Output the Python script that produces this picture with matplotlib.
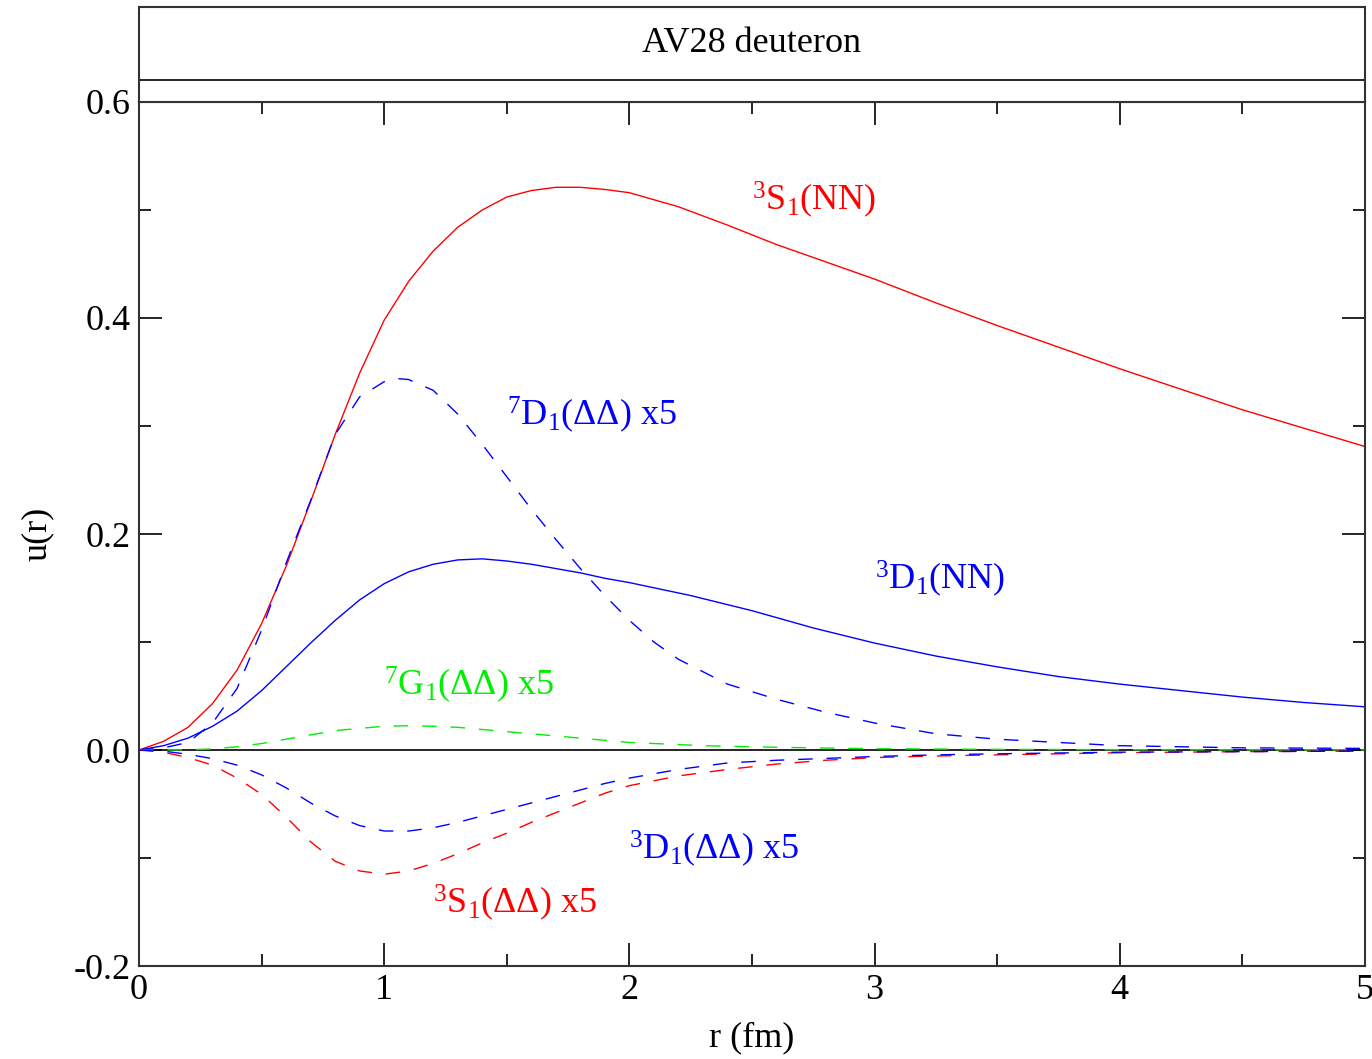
import numpy as np
import matplotlib
matplotlib.use("Agg")
import matplotlib.pyplot as plt
from matplotlib.ticker import MultipleLocator, FormatStrFormatter

plt.rcParams['font.family'] = ['Liberation Serif', 'DejaVu Serif']
plt.rcParams['mathtext.fontset'] = 'custom'
plt.rcParams['mathtext.rm'] = 'Liberation Serif'
plt.rcParams['mathtext.it'] = 'Liberation Serif:italic'
plt.rcParams['axes.unicode_minus'] = False

# 3S1(NN)
r_s_nn = [0, 0.1, 0.2, 0.3, 0.4, 0.5, 0.6, 0.7, 0.8, 0.9, 1.0, 1.1, 1.2, 1.3, 1.4, 1.5,
          1.6, 1.7, 1.8, 1.9, 2.0, 2.2, 2.4, 2.6, 2.8, 3.0, 3.25, 3.5, 3.75, 4.0, 4.25,
          4.5, 4.75, 5.0]
u_s_nn = [0, 0.008, 0.021, 0.043, 0.074, 0.117, 0.170, 0.230, 0.292, 0.349, 0.398, 0.434,
          0.462, 0.484, 0.500, 0.512, 0.518, 0.521, 0.521, 0.519, 0.516, 0.503, 0.486, 0.468,
          0.452, 0.436, 0.414, 0.393, 0.373, 0.353, 0.334, 0.315, 0.298, 0.281]

# 3D1(NN)
r_d_nn = [0, 0.1, 0.2, 0.3, 0.4, 0.5, 0.6, 0.7, 0.8, 0.9, 1.0, 1.1, 1.2, 1.3, 1.4, 1.5,
          1.6, 1.7, 1.8, 1.9, 2.0, 2.25, 2.5, 2.75, 3.0, 3.25, 3.5, 3.75, 4.0, 4.25, 4.5,
          4.75, 5.0]
u_d_nn = [0, 0.004, 0.011, 0.022, 0.036, 0.055, 0.077, 0.099, 0.120, 0.139, 0.154, 0.165,
          0.172, 0.176, 0.177, 0.175, 0.172, 0.168, 0.164, 0.159, 0.155, 0.143, 0.129, 0.113,
          0.099, 0.087, 0.077, 0.068, 0.061, 0.055, 0.049, 0.044, 0.040]

# 7D1(DD) x5
r_d7 = [0, 0.1, 0.2, 0.3, 0.4, 0.5, 0.6, 0.7, 0.8, 0.9, 1.0, 1.05, 1.1, 1.2, 1.3, 1.4,
        1.5, 1.6, 1.7, 1.8, 1.9, 2.0, 2.1, 2.2, 2.4, 2.6, 2.8, 3.0, 3.25, 3.5, 3.75, 4.0,
        4.5, 5.0]
u_d7 = [0, 0.002, 0.007, 0.025, 0.057, 0.111, 0.173, 0.231, 0.292, 0.327, 0.341, 0.344,
        0.343, 0.333, 0.311, 0.283, 0.253, 0.223, 0.195, 0.168, 0.143, 0.120, 0.100, 0.084,
        0.061, 0.047, 0.035, 0.025, 0.015, 0.010, 0.007, 0.004, 0.002, 0.0015]

# 7G1(DD) x5
r_g7 = [0, 0.2, 0.3, 0.4, 0.5, 0.6, 0.7, 0.8, 0.9, 1.0, 1.1, 1.2, 1.3, 1.4, 1.6, 1.8,
        2.0, 2.3, 2.6, 3.0, 3.5, 4.0, 5.0]
u_g7 = [0, 0.0002, 0.001, 0.003, 0.006, 0.010, 0.014, 0.018, 0.020, 0.022, 0.0225, 0.022,
        0.021, 0.019, 0.015, 0.011, 0.007, 0.004, 0.0025, 0.0012, 0.0006, 0.0003, 0.0001]

# 3S1(DD) x5
r_s_dd = [0, 0.1, 0.2, 0.3, 0.4, 0.5, 0.6, 0.7, 0.8, 0.9, 1.0, 1.1, 1.2, 1.3, 1.4, 1.5,
          1.6, 1.7, 1.8, 1.9, 2.0, 2.2, 2.4, 2.6, 2.8, 3.0, 3.25, 3.5, 4.0, 4.5, 5.0]
u_s_dd = [0, -0.002, -0.007, -0.014, -0.026, -0.041, -0.062, -0.085, -0.103, -0.112,
          -0.115, -0.112, -0.105, -0.096, -0.086, -0.077, -0.067, -0.058, -0.049, -0.040,
          -0.033, -0.024, -0.018, -0.013, -0.0095, -0.007, -0.0055, -0.0045, -0.0025,
          -0.0015, -0.001]

# 3D1(DD) x5
r_d_dd = [0, 0.1, 0.2, 0.3, 0.4, 0.5, 0.6, 0.7, 0.8, 0.9, 1.0, 1.1, 1.2, 1.3, 1.4, 1.5,
          1.6, 1.7, 1.8, 1.9, 2.0, 2.2, 2.4, 2.6, 2.8, 3.0, 3.25, 3.5, 4.0, 4.5, 5.0]
u_d_dd = [0, -0.001, -0.004, -0.008, -0.014, -0.023, -0.035, -0.049, -0.061, -0.070,
          -0.075, -0.075, -0.072, -0.067, -0.061, -0.055, -0.049, -0.043, -0.037, -0.031,
          -0.026, -0.018, -0.012, -0.0095, -0.0078, -0.006, -0.0045, -0.0035, -0.002,
          -0.0015, -0.001]

fs = 26
dash = (10.5, 10)

fig = plt.figure(figsize=(13.72, 10.59), dpi=100)
ax = fig.add_axes([0.1013, 0.0878, 0.8936, 0.8159])

ax.axhline(0, color='black', lw=1.2, zorder=1)
ax.plot(r_s_nn, u_s_nn, color='red', lw=1.0)
ax.plot(r_d_nn, u_d_nn, color='blue', lw=1.0)
ax.plot(r_d7, u_d7, color='blue', lw=1.0, dashes=dash)
ax.plot(r_g7, u_g7, color='#00ee00', lw=1.0, dashes=dash)
ax.plot(r_s_dd, u_s_dd, color='red', lw=1.0, dashes=dash)
ax.plot(r_d_dd, u_d_dd, color='blue', lw=1.0, dashes=dash)

ax.text(2.5, 0.509, r'$^3$S$_1$(NN)', color='red', fontsize=fs, va='center')
ax.text(1.5, 0.310, r'$^7$D$_1$(ΔΔ) x5', color='blue', fontsize=fs, va='center')
ax.text(3.0, 0.159, r'$^3$D$_1$(NN)', color='blue', fontsize=fs, va='center')
ax.text(1.0, 0.060, r'$^7$G$_1$(ΔΔ) x5', color='#00ee00', fontsize=fs, va='center')
ax.text(2.0, -0.091, r'$^3$D$_1$(ΔΔ) x5', color='blue', fontsize=fs, va='center')
ax.text(1.2, -0.141, r'$^3$S$_1$(ΔΔ) x5', color='red', fontsize=fs, va='center')

ax.set_xlim(0, 5)
ax.set_ylim(-0.2, 0.6)
ax.xaxis.set_major_locator(MultipleLocator(1))
ax.xaxis.set_minor_locator(MultipleLocator(0.5))
ax.yaxis.set_major_locator(MultipleLocator(0.2))
ax.yaxis.set_minor_locator(MultipleLocator(0.1))
ax.yaxis.set_major_formatter(FormatStrFormatter('%.1f'))
ax.tick_params(which='both', direction='in', top=True, right=True, labelsize=fs, pad=6)
ax.tick_params(which='major', length=16.5, width=1.2)
ax.tick_params(which='minor', length=8.3, width=1.2)
for s in ax.spines.values():
    s.set_linewidth(1.5)
    s.set_color('#333333')

ax.set_xlabel('r (fm)', fontsize=fs, labelpad=10)
ax.set_ylabel('u(r)', fontsize=fs, labelpad=14)

# title box above the plot
tax = fig.add_axes([0.1013, 0.9037, 0.8936, 0.0897])
tax.set_xlim(0, 1)
tax.set_ylim(0, 1)
tax.set_xticks([])
tax.set_yticks([])
for s in tax.spines.values():
    s.set_linewidth(1.5)
    s.set_color('#333333')
tax.axhline(0.234, color='black', lw=1.2)
tax.text(0.5, 0.62, 'AV28 deuteron', fontsize=fs, ha='center', va='center')

fig.savefig('out.png', dpi=100)
